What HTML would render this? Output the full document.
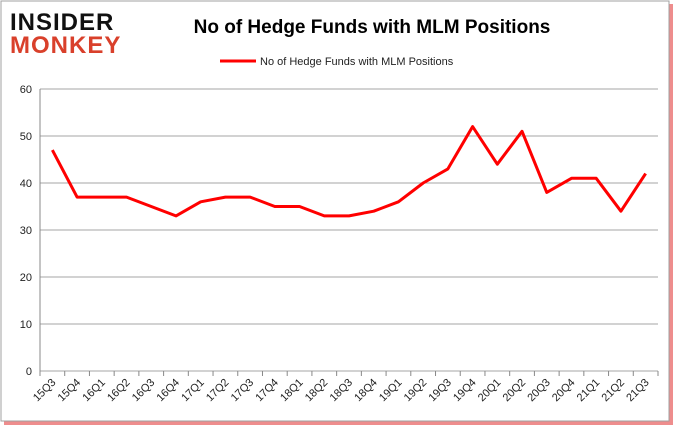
<!DOCTYPE html>
<html><head><meta charset="utf-8"><style>
body{margin:0;background:#fff;}
#wrap{position:relative;width:678px;height:431px;overflow:hidden;background:#fff;}
</style></head><body>
<div id="wrap">
<svg id="chart" width="678" height="431" xmlns="http://www.w3.org/2000/svg" font-family="Liberation Sans, Arial, sans-serif">
<rect x="4" y="4" width="669" height="421" fill="#e03030" opacity="0.55"/>
<rect x="1" y="1" width="668" height="420" fill="#fff" stroke="#a0a0a0"/>
<g>
<text x="10" y="30" font-size="24" font-weight="bold" fill="#111" letter-spacing="1">INSIDER</text>
<text x="10" y="53" font-size="24" font-weight="bold" fill="#d9402b" letter-spacing="1">MONKEY</text>
</g>
<text x="372" y="33" text-anchor="middle" font-size="19" font-weight="bold" fill="#000">No of Hedge Funds with MLM Positions</text>
<line x1="220" y1="61" x2="256" y2="61" stroke="#ff0000" stroke-width="3"/>
<text x="260" y="65" font-size="11" fill="#222">No of Hedge Funds with MLM Positions</text>
<g id="grid"></g><g id="axes"></g><g id="series"></g>
</svg>
</div>
<script>
const categories=["15Q3","15Q4","16Q1","16Q2","16Q3","16Q4","17Q1","17Q2","17Q3","17Q4","18Q1","18Q2","18Q3","18Q4","19Q1","19Q2","19Q3","19Q4","20Q1","20Q2","20Q3","20Q4","21Q1","21Q2","21Q3"];
const values=[47,37,37,37,35,33,36,37,37,35,35,33,33,34,36,40,43,52,44,51,38,41,41,34,42];
const yTicks=[0,10,20,30,40,50,60];
const NS="http://www.w3.org/2000/svg";
const L=40,R=658,T=89,B=371,yMax=60;
const band=(R-L)/categories.length;
const xs=i=>L+band*(i+0.5);
const ys=v=>B-(v/yMax)*(B-T);
function mk(t,a,p){const e=document.createElementNS(NS,t);for(const k in a)e.setAttribute(k,a[k]);p.appendChild(e);return e;}
const grid=document.getElementById('grid'),axes=document.getElementById('axes'),ser=document.getElementById('series');
yTicks.forEach(v=>{
 const g=mk('line',{x1:L,x2:R,y1:ys(v),y2:ys(v),stroke:'#a6a6a6','stroke-width':1},grid);
 
 
 const t=mk('text',{x:L-8,y:ys(v)+4,'text-anchor':'end','font-size':11,fill:'#222'},axes);
 t.textContent=v;
 
 
});
const ax=mk('line',{x1:L,x2:L,y1:T,y2:B,stroke:'#888'},axes);


for(let i=0;i<=categories.length;i++){
 const tk=mk('line',{x1:L+band*i,x2:L+band*i,y1:B,y2:B+5,stroke:'#888'},axes);
 
 
}
categories.forEach((c,i)=>{
 const x=xs(i)+4,y=B+12;
 const t=mk('text',{x:x,y:y,'text-anchor':'end','font-size':11,fill:'#222',transform:`rotate(-45 ${x} ${y})`},axes);
 t.textContent=c;
 
 
});
const pl=mk('polyline',{points:values.map((v,i)=>xs(i)+','+ys(v)).join(' '),fill:'none',stroke:'#ff0000','stroke-width':3,'stroke-linejoin':'round'},ser);


</script>
</body></html>
